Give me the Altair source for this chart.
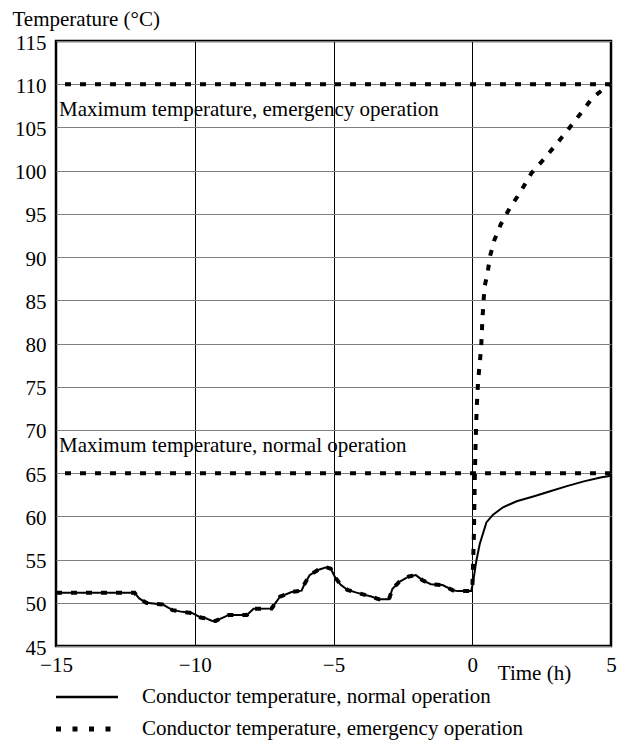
import altair as alt
import pandas as pd

# ---- data ----
# shared history (before t = 0), both operating modes
hist_t = [-15.0, -12.17, -12.0, -11.75, -11.15, -10.8, -10.44, -10.08, -9.79, -9.6, -9.37,
          -9.25, -8.77, -8.12, -7.88, -7.23, -6.93, -6.51, -6.15, -6.04, -5.86, -5.56,
          -5.26, -5.1, -4.95, -4.75, -4.5, -4.2, -3.97, -3.61, -3.37, -3.0, -2.88, -2.64,
          -2.28, -2.03, -1.79, -1.49, -1.07, -0.7, -0.52, -0.04]
hist_T = [51.15, 51.15, 50.5, 50.0, 49.8, 49.15, 48.95, 48.8, 48.3, 48.2, 47.9,
          47.9, 48.6, 48.6, 49.3, 49.35, 50.7, 51.25, 51.4, 52.2, 53.2, 53.8,
          54.1, 53.95, 53.0, 52.1, 51.5, 51.2, 51.0, 50.7, 50.4, 50.4, 51.6, 52.4,
          53.05, 53.2, 52.6, 52.15, 52.05, 51.45, 51.35, 51.35]

# after t = 0, normal operation
normal_t = [0.02, 0.15, 0.27, 0.51, 0.75, 1.11, 1.6, 2.2, 2.81, 3.41, 4.02, 4.62, 5.0]
normal_T = [52.2, 54.9, 56.8, 59.3, 60.2, 61.05, 61.75, 62.3, 62.9, 63.5, 64.05, 64.5, 64.7]

# after t = 0, emergency operation
emerg_t = [0.0, 0.03, 0.06, 0.09, 0.12, 0.16, 0.21, 0.26, 0.32, 0.37, 0.44, 0.56, 0.64,
           0.80, 1.03, 1.35, 1.73, 2.13, 2.60, 3.04, 3.54, 3.95, 4.35, 4.97]
emerg_T = [51.4, 54.5, 58.0, 64.0, 68.5, 72.5, 75.6, 77.4, 79.5, 83.0, 86.5, 88.3, 90.1,
           92.0, 93.8, 95.65, 97.5, 99.7, 101.4, 103.1, 105.1, 106.8, 108.5, 110.0]

limit_values = [65, 110]
limit_labels = ["Maximum temperature, normal operation",
                "Maximum temperature, emergency operation"]
limit_label_y = [68.1, 107.0]
limit_label_x = [-15, -15]

legend_labels = ["Conductor temperature, normal operation",
                 "Conductor temperature, emergency operation"]

x_ticks = [-15, -10, -5, 0, 5]
y_ticks = list(range(45, 120, 5))

FONT = "'Liberation Serif', 'Times New Roman', Times, serif"
FS = 21
DASH = [6, 9]

# ---- tables ----
normal_df = pd.DataFrame({
    "t": hist_t + normal_t,
    "T": hist_T + normal_T,
})
normal_df["i"] = range(len(normal_df))

emerg_df = pd.DataFrame({
    "t": hist_t + emerg_t,
    "T": hist_T + emerg_T,
})
emerg_df["i"] = range(len(emerg_df))

limits_df = pd.DataFrame({"value": limit_values})
labels_df = pd.DataFrame({"t": limit_label_x, "T": limit_label_y, "label": limit_labels})

x_scale = alt.Scale(domain=[-15, 5], nice=False, zero=False)
y_scale = alt.Scale(domain=[45, 115], nice=False, zero=False)

x_axis = alt.Axis(values=x_ticks, grid=True, gridColor="black", gridWidth=1,
                  domain=False, ticks=False, tickSize=0, labelPadding=8,
                  labelFont=FONT, labelFontSize=FS, labelColor="black",
                  labelAlign="center",
                  title="Time (h)", titleFont=FONT, titleFontSize=FS,
                  titleFontWeight="normal", titleColor="black",
                  titleX=478, titleY=27, titleAlign="center", titleBaseline="middle")
y_axis = alt.Axis(values=y_ticks, grid=True, gridColor="#808080", gridWidth=1,
                  domain=False, ticks=False, tickSize=0, labelPadding=10,
                  labelFont=FONT, labelFontSize=FS, labelColor="black",
                  labelOffset=2,
                  title="Temperature (°C)", titleFont=FONT, titleFontSize=FS,
                  titleFontWeight="normal", titleColor="black", titleAngle=0,
                  titleX=-44, titleY=-22, titleAlign="left", titleBaseline="middle")

normal_line = alt.Chart(normal_df).mark_line(color="black", strokeWidth=2).encode(
    x=alt.X("t:Q", scale=x_scale, axis=x_axis),
    y=alt.Y("T:Q", scale=y_scale, axis=y_axis),
    order="i:Q",
)

limit_rules = alt.Chart(limits_df).mark_rule(
    color="black", strokeWidth=4, strokeDash=DASH
).encode(y=alt.Y("value:Q", scale=y_scale))

emerg_line = alt.Chart(emerg_df).mark_line(
    color="black", strokeWidth=4, strokeDash=DASH
).encode(
    x=alt.X("t:Q", scale=x_scale),
    y=alt.Y("T:Q", scale=y_scale),
    order="i:Q",
)

limit_text = alt.Chart(labels_df).mark_text(
    align="left", baseline="middle", dx=3, font=FONT, fontSize=FS, color="black"
).encode(
    x=alt.X("t:Q", scale=x_scale),
    y=alt.Y("T:Q", scale=y_scale),
    text="label:N",
)

# ---- legend (drawn below the plot area) ----
LEG_Y1, LEG_Y2 = 656, 688
leg_normal_rule = alt.Chart(pd.DataFrame({"label": [legend_labels[0]]})).mark_rule(
    color="black", strokeWidth=2.5
).encode(x=alt.value(0), x2=alt.value(62), y=alt.value(LEG_Y1))
leg_emerg_rule = alt.Chart(pd.DataFrame({"label": [legend_labels[1]]})).mark_rule(
    color="black", strokeWidth=5, strokeDash=[5, 11.5]
).encode(x=alt.value(0), x2=alt.value(56), y=alt.value(LEG_Y2))
leg_normal_text = alt.Chart(pd.DataFrame({"label": [legend_labels[0]]})).mark_text(
    align="left", baseline="middle", font=FONT, fontSize=FS, color="black"
).encode(x=alt.value(86), y=alt.value(LEG_Y1), text="label:N")
leg_emerg_text = alt.Chart(pd.DataFrame({"label": [legend_labels[1]]})).mark_text(
    align="left", baseline="middle", font=FONT, fontSize=FS, color="black"
).encode(x=alt.value(86), y=alt.value(LEG_Y2), text="label:N")

chart = alt.layer(
    normal_line, limit_rules, emerg_line, limit_text,
    leg_normal_rule, leg_emerg_rule, leg_normal_text, leg_emerg_text,
).properties(
    width=555, height=605,
    autosize=alt.AutoSizeParams(type="none"),
    padding={"left": 48, "top": 33, "right": 12, "bottom": 95},
).configure(
    background="white", font=FONT
).configure_axis(
    labelFont=FONT, titleFont=FONT
).configure_text(
    font=FONT
).configure_view(
    stroke="black", strokeWidth=2.5
)

chart.save("out.html", embed_options={"renderer": "svg", "actions": False})
